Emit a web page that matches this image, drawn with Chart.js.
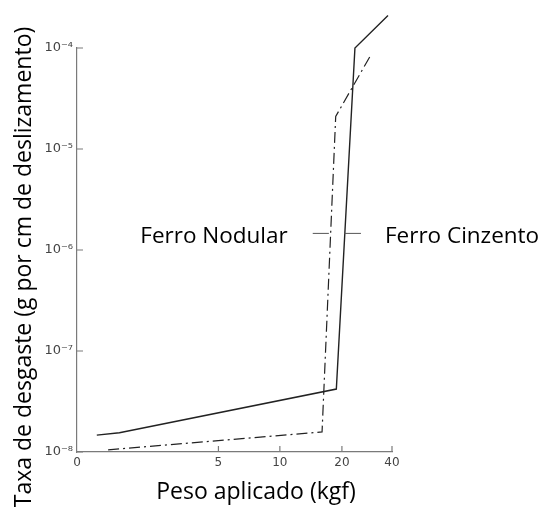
<!DOCTYPE html>
<html>
<head>
<meta charset="utf-8">
<script src="https://cdn.jsdelivr.net/npm/chart.js@4"></script>
<style>
  html, body { margin: 0; padding: 0; background: #fff; }
  #box { width: 543px; height: 508px; }
</style>
</head>
<body>
<div id="box"><canvas id="chart"></canvas></div>
<script>
// x ticks (kgf) - the original axis is stretched, not linear
const xTicks = [0, 5, 10, 20, 40];
const yTicks = [1e-8, 1e-7, 1e-6, 1e-5, 1e-4];

// Ferro Cinzento (solid line)
const cinzentoLoad = [0.7, 1.5, 19.1, 25.2, 38.4];
const cinzentoRate = [1.47e-8, 1.55e-8, 4.2e-8, 1.0e-4, 2.1e-4];

// Ferro Nodular (dash-dot line)
const nodularLoad = [1.1, 16.8, 19.0, 31.5];
const nodularRate = [1.05e-8, 1.58e-8, 2.1e-5, 8.5e-5];

const seriesNames = ['Ferro Cinzento', 'Ferro Nodular'];

const toPoints = (xs, ys) => xs.map((x, i) => ({ x: x, y: ys[i] }));
const sup = n => String(n).split('').map(c => '⁻⁰¹²³⁴⁵⁶⁷⁸⁹'['-0123456789'.indexOf(c)]).join('');

// linear scale whose tick intervals get their own share of the width
class StretchScale extends Chart.LinearScale {
  getPixelForValue(value) {
    if (value === null || value === undefined) return NaN;
    const stops = this.options.stops;
    let i = 0;
    while (i < xTicks.length - 2 && value > xTicks[i + 1]) i++;
    const t = (value - xTicks[i]) / (xTicks[i + 1] - xTicks[i]);
    return this.getPixelForDecimal(stops[i] + t * (stops[i + 1] - stops[i]));
  }
}
StretchScale.id = 'stretch';
StretchScale.defaults = {};
Chart.register(StretchScale);

const ink = '#222';
const axisGrey = '#7a7a7a';

// inward tick marks, labels with leader lines, axis titles
const extras = {
  id: 'extras',
  afterDraw(chart) {
    const ctx = chart.ctx;
    const xs = chart.scales.x, ys = chart.scales.y;
    const a = chart.chartArea;
    ctx.save();
    ctx.strokeStyle = axisGrey;
    ctx.lineWidth = 1.2;
    ctx.beginPath();
    xTicks.slice(1).forEach(v => {
      const px = xs.getPixelForValue(v);
      ctx.moveTo(px, a.bottom); ctx.lineTo(px, a.bottom - 6);
    });
    yTicks.forEach(v => {
      const py = ys.getPixelForValue(v);
      ctx.moveTo(a.left, py); ctx.lineTo(a.left + 6, py);
    });
    ctx.stroke();

    // leaders
    const ly = ys.getPixelForValue(1.46e-6);
    ctx.strokeStyle = '#555';
    ctx.lineWidth = 1;
    ctx.beginPath();
    ctx.moveTo(xs.getPixelForValue(15.3), ly); ctx.lineTo(xs.getPixelForValue(17.9), ly);
    ctx.moveTo(xs.getPixelForValue(21.0), ly); ctx.lineTo(xs.getPixelForValue(27.6), ly);
    ctx.stroke();

    ctx.fillStyle = '#000';
    ctx.font = '22.5px "Open Sans"';
    ctx.textBaseline = 'middle';
    ctx.textAlign = 'right';
    ctx.fillText(seriesNames[1], xs.getPixelForValue(15.3) - 25, ly + 3);
    ctx.textAlign = 'left';
    ctx.fillText(seriesNames[0], xs.getPixelForValue(27.6) + 24, ly + 3);

    ctx.font = '23px "Open Sans"';
    ctx.textAlign = 'center';
    ctx.fillText('Peso aplicado (kgf)', 256, 492);
    ctx.translate(24, 267);
    ctx.rotate(-Math.PI / 2);
    ctx.fillText('Taxa de desgaste (g por cm de deslizamento)', 0, 0);
    ctx.restore();
  }
};

new Chart(document.getElementById('chart'), {
  type: 'line',
  plugins: [extras],
  data: {
    datasets: [
      {
        label: seriesNames[0],
        data: toPoints(cinzentoLoad, cinzentoRate),
        borderColor: ink,
        borderWidth: 1.4,
        pointRadius: 0,
        tension: 0,
        clip: false
      },
      {
        label: seriesNames[1],
        data: toPoints(nodularLoad, nodularRate),
        borderColor: ink,
        borderWidth: 1.2,
        borderDash: [11, 4, 2, 4],
        pointRadius: 0,
        tension: 0,
        clip: false
      }
    ]
  },
  options: {
    responsive: true,
    maintainAspectRatio: false,
    animation: false,
    events: [],
    layout: { padding: { top: 48, right: 151, left: 0, bottom: 0 } },
    plugins: { legend: { display: false }, tooltip: { enabled: false } },
    scales: {
      x: {
        type: 'stretch',
        min: 0,
        max: 40,
        stops: [0, 0.449, 0.644, 0.841, 1],
        afterBuildTicks: s => { s.ticks = xTicks.map(v => ({ value: v })); },
        afterFit: s => { s.height = 56; },
        grid: { display: false, drawTicks: false },
        border: { display: true, color: axisGrey, width: 1.2 },
        ticks: {
          autoSkip: false,
          maxRotation: 0,
          padding: 4,
          color: '#444',
          font: { family: 'DejaVu Sans', size: 12 },
          callback: v => String(v)
        }
      },
      y: {
        type: 'logarithmic',
        min: 1e-8,
        max: 1e-4,
        afterBuildTicks: s => { s.ticks = yTicks.map(v => ({ value: v })); },
        afterFit: s => { s.width = 77; },
        grid: { display: false, drawTicks: false },
        border: { display: true, color: axisGrey, width: 1.2 },
        ticks: {
          autoSkip: false,
          padding: 4,
          color: '#444',
          font: { family: 'DejaVu Sans', size: 13 },
          callback: v => '10' + sup(Math.round(Math.log10(v)))
        }
      }
    }
  }
});
</script>
</body>
</html>
